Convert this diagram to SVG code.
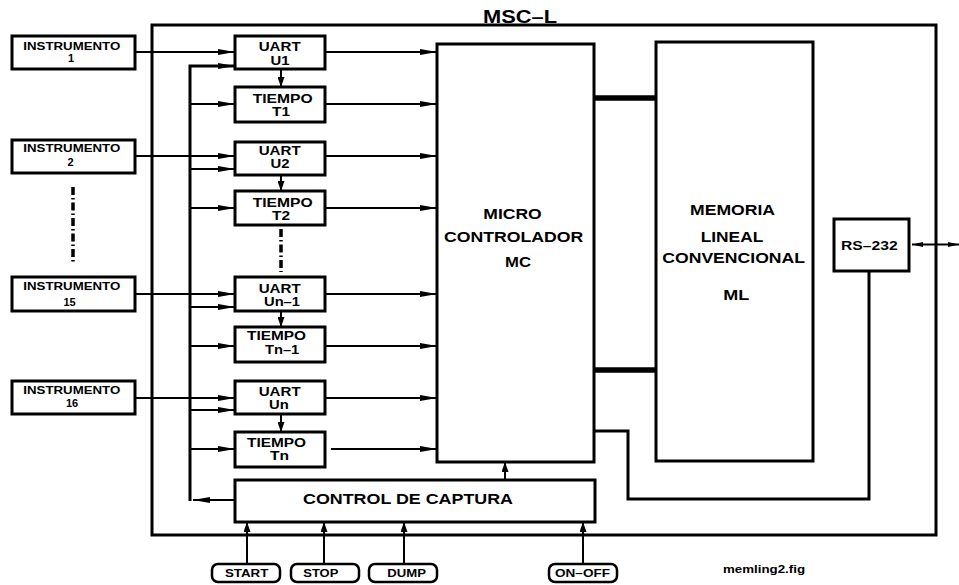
<svg xmlns="http://www.w3.org/2000/svg" width="959" height="585" viewBox="0 0 959 585">
<defs>
<style>
text{font-family:"Liberation Sans",Arial,Helvetica,sans-serif;font-weight:bold;fill:#000}
.box{fill:#fff;stroke:#000;stroke-width:3}
.btn{fill:#fff;stroke:#000;stroke-width:2.5}
.c{fill:none;stroke:#000;stroke-width:2}
.bus{fill:none;stroke:#000;stroke-width:3}
.thick{fill:none;stroke:#000;stroke-width:5.5}
.dd{fill:none;stroke:#000;stroke-width:3.5;stroke-dasharray:8 3 1.5 3}
.ah{marker-end:url(#aH)}
.av{marker-end:url(#aV)}
.i{font-size:11px}
.u{font-size:12px}
.m{font-size:14.5px}
.b{font-size:10.5px}
</style>
<marker id="aH" markerUnits="userSpaceOnUse" markerWidth="17" markerHeight="6" refX="17" refY="3" orient="auto"><path d="M0,0 L17,3 L0,6 Z" fill="#000"/></marker>
<marker id="aV" markerUnits="userSpaceOnUse" markerWidth="10" markerHeight="7" refX="10" refY="3.5" orient="auto"><path d="M0,0 L10,3.5 L0,7 Z" fill="#000"/></marker>
<marker id="aS" markerUnits="userSpaceOnUse" markerWidth="11" markerHeight="5" refX="11" refY="2.5" orient="auto"><path d="M0,0 L11,2.5 L0,5 Z" fill="#000"/></marker>
<marker id="aSs" markerUnits="userSpaceOnUse" markerWidth="11" markerHeight="5" refX="11" refY="2.5" orient="auto-start-reverse"><path d="M0,0 L11,2.5 L0,5 Z" fill="#000"/></marker>
</defs>
<rect width="959" height="585" fill="#fff"/>

<g id="msc-l">
<rect class="box" x="152" y="25" width="784" height="510"/>
<text x="483" y="22.5" font-size="18" textLength="74" lengthAdjust="spacingAndGlyphs">MSC–L</text>
</g>

<g id="connectors">
<!-- instruments to UARTs -->
<line class="c ah" x1="135" y1="52" x2="235" y2="52"/>
<line class="c ah" x1="135" y1="156" x2="235" y2="156"/>
<line class="c ah" x1="135" y1="294" x2="235" y2="294"/>
<line class="c ah" x1="135" y1="398" x2="235" y2="398"/>
<!-- control bus -->
<polyline class="bus" points="235,66 190,66 190,501"/>
<line class="c ah" x1="215" y1="66" x2="235" y2="66"/>
<line class="c ah" x1="190" y1="104" x2="235" y2="104"/>
<line class="c ah" x1="190" y1="169" x2="235" y2="169"/>
<line class="c ah" x1="190" y1="208" x2="235" y2="208"/>
<line class="c ah" x1="190" y1="307" x2="235" y2="307"/>
<line class="c ah" x1="190" y1="346" x2="235" y2="346"/>
<line class="c ah" x1="190" y1="410" x2="235" y2="410"/>
<line class="c ah" x1="190" y1="449" x2="235" y2="449"/>
<line class="c ah" x1="235" y1="500" x2="193" y2="500"/>
<!-- UART to TIEMPO -->
<line class="c av" x1="281" y1="69" x2="281" y2="87"/>
<line class="c av" x1="281" y1="175" x2="281" y2="191"/>
<line class="c av" x1="281" y1="311" x2="281" y2="327"/>
<line class="c av" x1="281" y1="414" x2="281" y2="432"/>
<!-- outputs to MC -->
<line class="c ah" x1="325" y1="52" x2="437" y2="52"/>
<line class="c ah" x1="325" y1="104" x2="437" y2="104"/>
<line class="c ah" x1="325" y1="156" x2="437" y2="156"/>
<line class="c ah" x1="325" y1="208" x2="437" y2="208"/>
<line class="c ah" x1="325" y1="294" x2="437" y2="294"/>
<line class="c ah" x1="325" y1="346" x2="437" y2="346"/>
<line class="c ah" x1="325" y1="398" x2="437" y2="398"/>
<line class="c ah" x1="331" y1="449" x2="437" y2="449"/>
<!-- control to MC -->
<line class="c av" x1="505" y1="480" x2="505" y2="462"/>
<!-- buttons to control -->
<line class="c av" x1="247" y1="564" x2="247" y2="522"/>
<line class="c av" x1="324" y1="564" x2="324" y2="522"/>
<line class="c av" x1="404" y1="564" x2="404" y2="522"/>
<line class="c av" x1="583" y1="564" x2="583" y2="522"/>
<!-- MC to ML buses -->
<line class="thick" x1="594" y1="98" x2="656" y2="98"/>
<line class="thick" x1="594" y1="370" x2="656" y2="370"/>
<!-- MC to RS-232 -->
<polyline class="bus" points="594,431 628,431 628,499 869,499 869,271"/>
<!-- RS-232 external -->
<line class="c" x1="912" y1="244.5" x2="959" y2="244.5" marker-start="url(#aSs)" marker-end="url(#aS)"/>
<!-- continuation marks -->
<line class="dd" x1="73" y1="187" x2="73" y2="263"/>
<line class="dd" x1="281" y1="229" x2="281" y2="272"/>
</g>

<g id="instrumento-1">
<rect class="box" x="12" y="36" width="123" height="33"/>
<text class="i" x="23.3" y="49.5" textLength="97" lengthAdjust="spacingAndGlyphs">INSTRUMENTO</text>
<text class="i" x="71" y="62" text-anchor="middle">1</text>
</g>
<g id="instrumento-2">
<rect class="box" x="12" y="140" width="123" height="33"/>
<text class="i" x="23.3" y="152" textLength="97" lengthAdjust="spacingAndGlyphs">INSTRUMENTO</text>
<text class="i" x="70.5" y="166" text-anchor="middle">2</text>
</g>
<g id="instrumento-15">
<rect class="box" x="12" y="277" width="123" height="34"/>
<text class="i" x="23.3" y="290" textLength="97" lengthAdjust="spacingAndGlyphs">INSTRUMENTO</text>
<text class="i" x="69.5" y="306" text-anchor="middle">15</text>
</g>
<g id="instrumento-16">
<rect class="box" x="12" y="381" width="123" height="33"/>
<text class="i" x="23.3" y="394" textLength="97" lengthAdjust="spacingAndGlyphs">INSTRUMENTO</text>
<text class="i" x="72" y="407" text-anchor="middle">16</text>
</g>

<g id="uart-u1">
<rect class="box" x="235" y="36" width="90" height="33"/>
<text class="u" x="258.7" y="51.3" textLength="42" lengthAdjust="spacingAndGlyphs">UART</text>
<text class="u" x="280" y="64.5" text-anchor="middle" textLength="19" lengthAdjust="spacingAndGlyphs">U1</text>
</g>
<g id="tiempo-t1">
<rect class="box" x="235" y="87" width="90" height="35"/>
<text class="u" x="252.7" y="102.5" textLength="60" lengthAdjust="spacingAndGlyphs">TIEMPO</text>
<text class="u" x="281" y="116" text-anchor="middle" textLength="18" lengthAdjust="spacingAndGlyphs">T1</text>
</g>
<g id="uart-u2">
<rect class="box" x="235" y="142" width="90" height="33"/>
<text class="u" x="258.7" y="154.5" textLength="42" lengthAdjust="spacingAndGlyphs">UART</text>
<text class="u" x="280" y="167.8" text-anchor="middle" textLength="19" lengthAdjust="spacingAndGlyphs">U2</text>
</g>
<g id="tiempo-t2">
<rect class="box" x="235" y="191" width="90" height="34"/>
<text class="u" x="252.7" y="206.5" textLength="60" lengthAdjust="spacingAndGlyphs">TIEMPO</text>
<text class="u" x="281" y="219.5" text-anchor="middle" textLength="18" lengthAdjust="spacingAndGlyphs">T2</text>
</g>
<g id="uart-un-1">
<rect class="box" x="235" y="277" width="90" height="34"/>
<text class="u" x="258.7" y="293" textLength="42" lengthAdjust="spacingAndGlyphs">UART</text>
<text class="u" x="264" y="306.3" textLength="36" lengthAdjust="spacingAndGlyphs">Un–1</text>
</g>
<g id="tiempo-tn-1">
<rect class="box" x="235" y="327" width="90" height="35"/>
<text class="u" x="247" y="340" textLength="59" lengthAdjust="spacingAndGlyphs">TIEMPO</text>
<text class="u" x="265" y="353.5" textLength="34.3" lengthAdjust="spacingAndGlyphs">Tn–1</text>
</g>
<g id="uart-un">
<rect class="box" x="235" y="381" width="90" height="33"/>
<text class="u" x="258.7" y="395.5" textLength="42" lengthAdjust="spacingAndGlyphs">UART</text>
<text class="u" x="269" y="408.6" textLength="19.7" lengthAdjust="spacingAndGlyphs">Un</text>
</g>
<g id="tiempo-tn">
<rect class="box" x="235" y="432" width="90" height="35"/>
<text class="u" x="247" y="447" textLength="59" lengthAdjust="spacingAndGlyphs">TIEMPO</text>
<text class="u" x="270" y="460.3" textLength="19" lengthAdjust="spacingAndGlyphs">Tn</text>
</g>

<g id="micro-controlador">
<rect class="box" x="437" y="44" width="157" height="418"/>
<text class="m" x="483.3" y="219" textLength="58.4" lengthAdjust="spacingAndGlyphs">MICRO</text>
<text class="m" x="444" y="241.7" textLength="139.3" lengthAdjust="spacingAndGlyphs">CONTROLADOR</text>
<text class="m" x="505" y="267.3" textLength="26" lengthAdjust="spacingAndGlyphs">MC</text>
</g>

<g id="memoria-lineal">
<rect class="box" x="656" y="42" width="157" height="419"/>
<text class="m" x="690" y="215" textLength="85" lengthAdjust="spacingAndGlyphs">MEMORIA</text>
<text class="m" x="700.7" y="241.7" textLength="62.6" lengthAdjust="spacingAndGlyphs">LINEAL</text>
<text class="m" x="662.3" y="263.3" textLength="142.7" lengthAdjust="spacingAndGlyphs">CONVENCIONAL</text>
<text class="m" x="723.3" y="300" textLength="26" lengthAdjust="spacingAndGlyphs">ML</text>
</g>

<g id="rs-232">
<rect class="box" x="834" y="219" width="75" height="52"/>
<text x="841" y="250" font-size="13" textLength="56.7" lengthAdjust="spacingAndGlyphs">RS–232</text>
</g>

<g id="control-de-captura">
<rect class="box" x="235" y="480" width="360" height="42"/>
<text x="303" y="504" font-size="14.5" textLength="210" lengthAdjust="spacingAndGlyphs">CONTROL DE CAPTURA</text>
</g>

<g id="start">
<rect class="btn" x="212" y="564" width="68" height="18" rx="6"/>
<text class="b" x="225" y="577.3" textLength="43.3" lengthAdjust="spacingAndGlyphs">START</text>
</g>
<g id="stop">
<rect class="btn" x="291" y="564" width="68" height="18" rx="6"/>
<text class="b" x="303.3" y="577.3" textLength="35" lengthAdjust="spacingAndGlyphs">STOP</text>
</g>
<g id="dump">
<rect class="btn" x="369" y="564" width="68" height="18" rx="6"/>
<text class="b" x="387.3" y="577.3" textLength="38.7" lengthAdjust="spacingAndGlyphs">DUMP</text>
</g>
<g id="on-off">
<rect class="btn" x="549" y="564" width="68" height="18" rx="6"/>
<text class="b" x="555" y="577.3" textLength="55" lengthAdjust="spacingAndGlyphs">ON–OFF</text>
</g>

<text x="723" y="573.3" font-size="11" textLength="82" lengthAdjust="spacingAndGlyphs">memling2.fig</text>
</svg>
